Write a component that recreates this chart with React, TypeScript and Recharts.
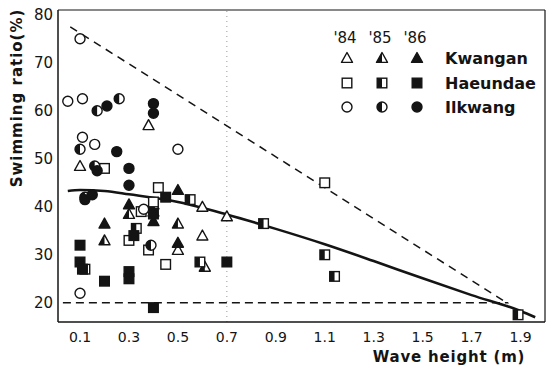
import React from 'react'
import {
  ScatterChart,
  Scatter,
  XAxis,
  YAxis,
  ReferenceLine,
} from 'recharts'

// [wave height (m), swimming ratio (%)]
const kwangan84 = [[0.1, 48.5], [0.38, 57], [0.6, 34], [0.7, 38], [0.6, 40], [0.5, 31]]
const kwangan85 = [[0.2, 33], [0.5, 36.5], [0.3, 38.5], [0.61, 27.5], [0.4, 40.5]]
const kwangan86 = [[0.2, 36.5], [0.3, 40.5], [0.4, 37], [0.5, 43.5], [0.5, 32.5], [0.4, 39]]

const haeundae84 = [[0.2, 48], [0.42, 44], [0.4, 41], [0.3, 33], [0.38, 31], [0.45, 28], [1.1, 45], [0.35, 39]]
const haeundae85 = [[0.33, 35.5], [0.85, 36.5], [1.1, 30], [1.14, 25.5], [1.89, 17.5], [0.59, 28.5], [0.55, 41.5], [0.12, 27]]
const haeundae86 = [[0.1, 32], [0.1, 28.5], [0.11, 27], [0.2, 24.5], [0.3, 26.5], [0.3, 25], [0.4, 19], [0.7, 28.5], [0.45, 42], [0.4, 38.5], [0.32, 34]]

const ilkwang84 = [[0.1, 75], [0.05, 62], [0.11, 62.5], [0.11, 54.5], [0.16, 53], [0.5, 52], [0.1, 22], [0.36, 39.5]]
const ilkwang85 = [[0.17, 60], [0.26, 62.5], [0.1, 52], [0.16, 48.5], [0.39, 32], [0.12, 42]]
const ilkwang86 = [[0.21, 61], [0.4, 61.5], [0.4, 59.5], [0.25, 51.5], [0.17, 47.5], [0.3, 48], [0.3, 44.5], [0.12, 41.5], [0.15, 42.5]]

// fitted curve and envelope lines
const fitCurve = [[0.05, 43.3], [0.1, 43.5], [0.2, 43.3], [0.3, 42.6], [0.5, 41], [0.7, 38.4], [0.9, 35.4], [1.1, 32.2], [1.3, 28.7], [1.5, 25.1], [1.7, 21.6], [1.9, 18.3], [1.96, 17]]
const upperLine = [[0.06, 77.5], [1.85, 19.8]]
const lowerLine = [[0.03, 20], [1.85, 20]]

const xTicks = [0.1, 0.3, 0.5, 0.7, 0.9, 1.1, 1.3, 1.5, 1.7, 1.9]
const yTicks = [20, 30, 40, 50, 60, 70, 80]
const years = ["'84", "'85", "'86"]
const sites = ['Kwangan', 'Haeundae', 'Ilkwang']

const INK = '#141414'
const FONT = '"DejaVu Sans", sans-serif'

const toPts = (arr: number[][]) => arr.map(([x, y]) => ({ x, y }))

type Kind = 'tri' | 'sq' | 'circ'
type Fill = 'open' | 'half' | 'full'

function Marker({ cx, cy, kind, fill }: { cx: number; cy: number; kind: Kind; fill: Fill }) {
  const bg = fill === 'full' ? INK : '#fff'
  const sw = 1.4
  if (kind === 'circ') {
    const r = 5
    return (
      <g>
        <circle cx={cx} cy={cy} r={r} fill={bg} stroke={INK} strokeWidth={sw} />
        {fill === 'half' && (
          <path d={`M${cx},${cy - r} A${r},${r} 0 0 0 ${cx},${cy + r} Z`} fill={INK} />
        )}
      </g>
    )
  }
  if (kind === 'sq') {
    const h = 4.8
    return (
      <g>
        <rect x={cx - h} y={cy - h} width={h * 2} height={h * 2} fill={bg} stroke={INK} strokeWidth={sw} />
        {fill === 'half' && <rect x={cx - h} y={cy - h} width={h} height={h * 2} fill={INK} />}
      </g>
    )
  }
  const s = 5.5
  const pts = `${cx},${cy - s} ${cx + s},${cy + s * 0.8} ${cx - s},${cy + s * 0.8}`
  return (
    <g>
      <polygon points={pts} fill={bg} stroke={INK} strokeWidth={sw} strokeLinejoin="round" />
      {fill === 'half' && (
        <polygon points={`${cx},${cy - s} ${cx},${cy + s * 0.8} ${cx - s},${cy + s * 0.8}`} fill={INK} />
      )}
    </g>
  )
}

const shapeOf = (kind: Kind, fill: Fill) => (props: any) =>
  <Marker cx={props.cx} cy={props.cy} kind={kind} fill={fill} />

const noDot = () => <g />

const series: { data: number[][]; kind: Kind; fill: Fill }[] = [
  { data: kwangan84, kind: 'tri', fill: 'open' },
  { data: kwangan85, kind: 'tri', fill: 'half' },
  { data: kwangan86, kind: 'tri', fill: 'full' },
  { data: haeundae84, kind: 'sq', fill: 'open' },
  { data: haeundae85, kind: 'sq', fill: 'half' },
  { data: haeundae86, kind: 'sq', fill: 'full' },
  { data: ilkwang84, kind: 'circ', fill: 'open' },
  { data: ilkwang85, kind: 'circ', fill: 'half' },
  { data: ilkwang86, kind: 'circ', fill: 'full' },
]

const legendCols = [347, 382, 417]
const legendRows = [58, 83, 107]
const legendKinds: Kind[] = ['tri', 'sq', 'circ']
const legendFills: Fill[] = ['open', 'half', 'full']

export default function App() {
  return (
    <div style={{ position: 'absolute', left: 0, top: 0, width: 554, height: 370, background: '#fff' }}>
      <ScatterChart width={554} height={370} margin={{ top: 10, right: 9, bottom: 0, left: 0 }}>
        <XAxis
          type="number"
          dataKey="x"
          domain={[0.01, 2.0]}
          ticks={xTicks}
          tickFormatter={(v) => v.toFixed(1)}
          allowDataOverflow
          height={48}
          stroke={INK}
          strokeWidth={1.5}
          tickLine={false}
          tickSize={8}
          tickMargin={2}
          tick={{ fill: INK, fontSize: 14, fontFamily: FONT }}
        />
        <YAxis
          type="number"
          dataKey="y"
          domain={[16, 81]}
          ticks={yTicks}
          allowDataOverflow
          width={58}
          stroke={INK}
          strokeWidth={1.5}
          tickLine={false}
          tickSize={3}
          tickMargin={2}
          tick={{ fill: INK, fontSize: 15, fontFamily: FONT }}
        />
        <ReferenceLine y={81} stroke={INK} strokeWidth={1.2} />
        <ReferenceLine x={2.0} stroke={INK} strokeWidth={1.2} />
        <ReferenceLine x={0.7} stroke="#999" strokeDasharray="1 4" />
        <Scatter
          data={toPts(upperLine)}
          shape={noDot}
          line={{ stroke: INK, strokeWidth: 1.5, strokeDasharray: '8 6' }}
          isAnimationActive={false}
        />
        <Scatter
          data={toPts(lowerLine)}
          shape={noDot}
          line={{ stroke: INK, strokeWidth: 1.5, strokeDasharray: '8 5' }}
          isAnimationActive={false}
        />
        <Scatter
          data={toPts(fitCurve)}
          shape={noDot}
          line={{ stroke: INK, strokeWidth: 2.6 }}
          lineJointType="monotoneX"
          isAnimationActive={false}
        />
        {series.map((s, i) => (
          <Scatter
            key={i}
            data={toPts(s.data)}
            shape={shapeOf(s.kind, s.fill)}
            isAnimationActive={false}
          />
        ))}
      </ScatterChart>
      <svg
        width={554}
        height={370}
        style={{ position: 'absolute', left: 0, top: 0, pointerEvents: 'none' }}
        fontFamily={FONT}
      >
        <text
          transform="translate(17,98) rotate(-90)"
          textAnchor="middle"
          dominantBaseline="central"
          fontSize={15}
          fontWeight="bold"
          letterSpacing={1}
          fill={INK}
        >
          Swimming ratio(%)
        </text>
        <text x={449} y={362} textAnchor="middle" fontSize={15} fontWeight="bold" letterSpacing={0.8} fill={INK}>
          Wave  height (m)
        </text>
        {years.map((y, i) => (
          <text key={y} x={legendCols[i] - 2} y={43} textAnchor="middle" fontSize={15} fill={INK}>
            {y}
          </text>
        ))}
        {sites.map((name, r) => (
          <g key={name}>
            {legendFills.map((f, c) => (
              <Marker key={c} cx={legendCols[c]} cy={legendRows[r]} kind={legendKinds[r]} fill={f} />
            ))}
            <text x={445} y={legendRows[r]} dominantBaseline="central" fontSize={16} fontWeight="bold" fill={INK}>
              {name}
            </text>
          </g>
        ))}
      </svg>
    </div>
  )
}
